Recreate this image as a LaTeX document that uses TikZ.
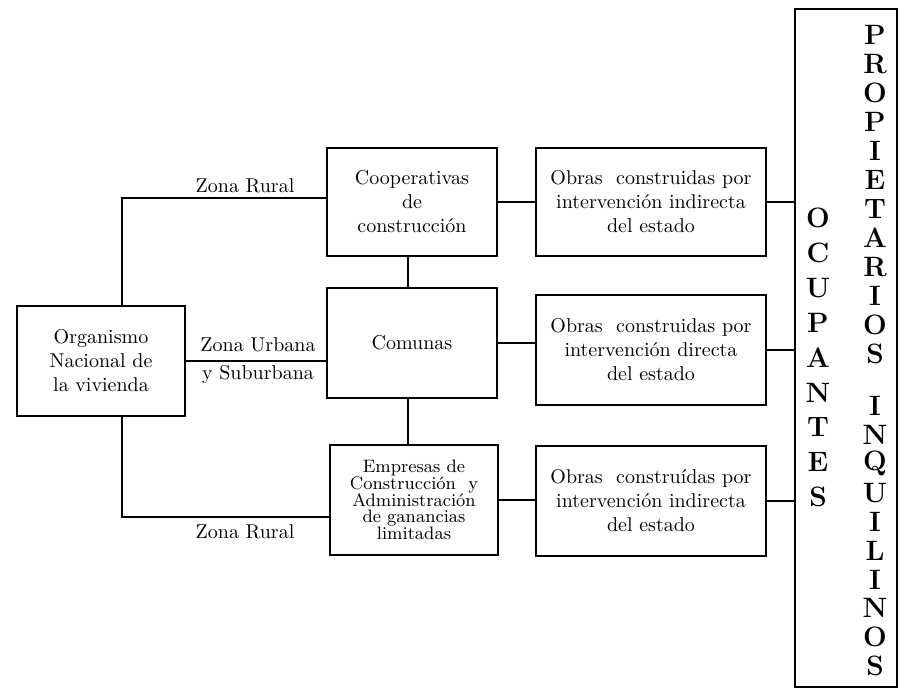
\documentclass[tikz,border=0pt]{standalone}
\usepackage{tikz}
\usetikzlibrary{calc}

\begin{document}
\begin{tikzpicture}[x=0.5pt,y=-0.5pt,
  caja/.style={draw,line width=1.3pt,align=center,inner sep=2pt,minimum width=85pt,minimum height=55pt},
  obra/.style={caja,minimum width=115pt},
  enlace/.style={line width=1.3pt},
  letra/.style={font=\fontsize{14}{14}\selectfont\bfseries,inner sep=0pt}]
  \useasboundingbox (0,0) rectangle (904,690);

  \node[caja,minimum width=84pt] (org) at (101,361) {Organismo\\Nacional de\\la vivienda};
  \node[caja,minimum height=54pt] (coop) at (412,202) {Cooperativas\\de\\construcción};
  \node[caja] (com) at (412,343) {Comunas};
  \node[caja,minimum width=84pt,font=\fontsize{9}{8.4}\selectfont] (emp) at (414,500) {Empresas de\\Construcción\ \ y\\Administración\\de ganancias\\limitadas};

  \node[obra,minimum height=54pt] (ob1) at (651,202) {Obras\ \ construidas por\\intervención indirecta\\del estado};
  \node[obra] (ob2) at (651,350) {Obras\ \ construidas por\\intervención directa\\del estado};
  \node[obra] (ob3) at (651,501) {Obras\ \ construídas por\\intervención indirecta\\del estado};

  \node[draw,line width=1.3pt,minimum width=51pt,minimum height=339pt] (pueblo) at (846,348) {};

  \draw[enlace] ([xshift=10.5pt]org.north) |- ([yshift=2pt]coop.west);
  \draw[enlace] (org.east) -- (org.east -| com.west);
  \draw[enlace] ([xshift=10.5pt]org.south) |- ([yshift=-8.5pt]emp.west);
  \node (zr1) at (245,186) {Zona Rural};
  \node (zu) at (258,345) {Zona Urbana};
  \node (zs) at (258,374) {y Suburbana};
  \node (zr2) at (245,532) {Zona Rural};

  \draw[enlace] ([xshift=-2pt]coop.south) -- ([xshift=-2pt]coop.south |- com.north);
  \draw[enlace] ([xshift=-2pt]com.south) -- ([xshift=-2pt]com.south |- emp.north);

  \draw[enlace] (coop.east) -- (coop.east -| ob1.west);
  \draw[enlace] (com.east) -- (com.east -| ob2.west);
  \draw[enlace] (emp.east) -- (emp.east -| ob3.west);
  \draw[enlace] (ob1.east) -- (ob1.east -| pueblo.west);
  \draw[enlace] (ob2.east) -- (ob2.east -| pueblo.west);
  \draw[enlace] (ob3.east) -- (ob3.east -| pueblo.west);

  \foreach \l [count=\i] in {O,C,U,P,A,N,T,E,S}
    \node[letra] (ocu\i) at (818,218+34.9*\i-34.9) {\l};
  \foreach \l [count=\i] in {P,R,O,P,I,E,T,A,R,I,O,S}
    \node[letra] (pro\i) at (875,35+29*\i-29) {\l};
  \foreach \l [count=\i] in {I,N,Q,U,I,L,I,N,O,S}
    \node[letra] (inq\i) at (875,406+28.9*\i-28.9) {\l};
\end{tikzpicture}
\end{document}
